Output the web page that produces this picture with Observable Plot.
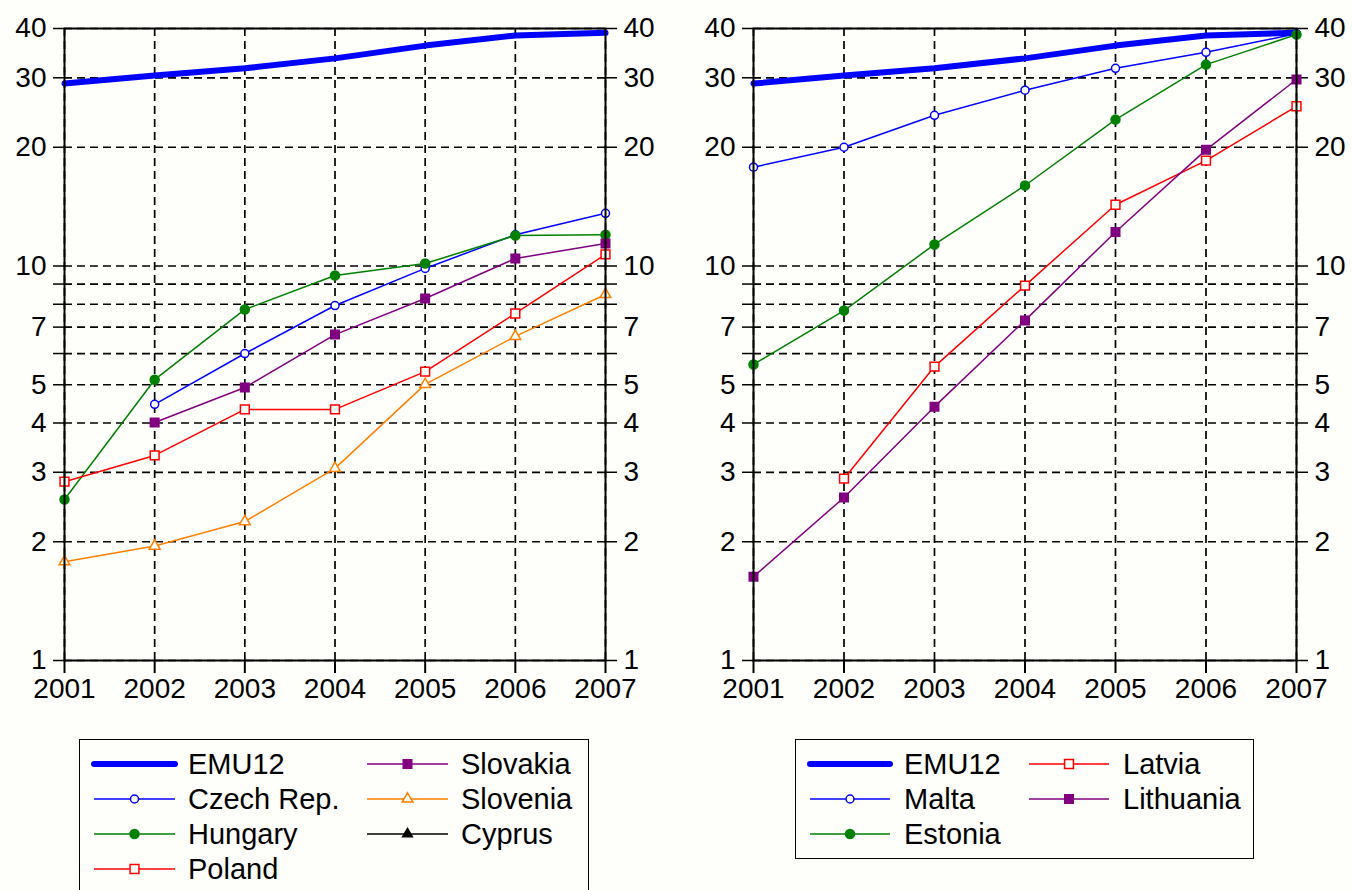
<!DOCTYPE html>
<html><head><meta charset="utf-8">
<script src="https://cdn.jsdelivr.net/npm/d3@7"></script>
<script src="https://cdn.jsdelivr.net/npm/@observablehq/plot@0.6"></script>
<style>
body{margin:0;background:#fefefb;font-family:"Liberation Sans",Arial,sans-serif;}
#wrap{position:relative;width:1352px;height:890px;overflow:hidden;background:#fefefb;}
.panel{position:absolute;top:0;}
.legend{position:absolute;border:1.5px solid #000;background:#fefefb;box-sizing:border-box;}
.legend svg{display:block;overflow:visible;}
</style></head><body><div id="wrap"></div>
<script>
// ---------- data ----------
const years = [2001, 2002, 2003, 2004, 2005, 2006, 2007];
const emu12 = [29.0, 30.4, 31.7, 33.6, 36.2, 38.4, 39.0];
// left panel
const czech    = [null, 4.46, 6.0, 7.94, 9.86, 12.0, 13.6];
const hungary  = [2.56, 5.15, 7.76, 9.46, 10.15, 11.95, 12.0];
const poland   = [2.84, 3.31, 4.33, 4.33, 5.40, 7.58, 10.7];
const slovakia = [null, 4.01, 4.92, 6.70, 8.27, 10.45, 11.4];
const slovenia = [1.78, 1.95, 2.25, 3.07, 5.01, 6.63, 8.47];
const cyprus   = [null, null, null, null, null, null, null];
// right panel
const malta     = [17.8, 20.0, 24.1, 27.9, 31.7, 34.8, 38.8];
const estonia   = [5.63, 7.71, 11.34, 16.0, 23.5, 32.4, 38.6];
const latvia    = [null, 2.89, 5.56, 8.92, 14.3, 18.5, 25.4];
const lithuania = [1.63, 2.59, 4.40, 7.28, 12.2, 19.7, 29.7];
// axes
const gridValues = [1, 2, 3, 4, 5, 6, 7, 8, 9, 10, 20, 30, 40];
const tickLabels = [1, 2, 3, 4, 5, 7, 10, 20, 30, 40];

const BG = "#fefefb";
const FONT = "Liberation Sans, Arial, sans-serif";
const FS = 28;
const LFS = 29;

const S = {
  EMU12:      {values: emu12,    color: "#0000ff", width: 6,   symbol: null},
  "Czech Rep.":{values: czech,   color: "#0000ff", width: 1.5, symbol: "circle", filled: false, r: 4},
  Hungary:    {values: hungary,  color: "#008000", width: 1.5, symbol: "circle", filled: true,  r: 4.5},
  Poland:     {values: poland,   color: "#ff0000", width: 1.5, symbol: "square", filled: false, r: 5},
  Slovakia:   {values: slovakia, color: "#800080", width: 1.5, symbol: "square", filled: true,  r: 4.8},
  Slovenia:   {values: slovenia, color: "#ff8000", width: 1.5, symbol: "triangle", filled: false, r: 4},
  Cyprus:     {values: cyprus,   color: "#000000", width: 1.5, symbol: "triangle", filled: true, r: 3.6},
  Malta:      {values: malta,    color: "#0000ff", width: 1.5, symbol: "circle", filled: false, r: 4},
  Estonia:    {values: estonia,  color: "#008000", width: 1.5, symbol: "circle", filled: true,  r: 4.5},
  Latvia:     {values: latvia,   color: "#ff0000", width: 1.5, symbol: "square", filled: false, r: 5},
  Lithuania:  {values: lithuania,color: "#800080", width: 1.5, symbol: "square", filled: true,  r: 4.8}
};

function rows(name) {
  return years.map((y, i) => ({year: y, value: S[name].values[i]})).filter(d => d.value != null);
}

function panel(names, {left, width, marginLeft, marginRight}) {
  const marks = [
    Plot.ruleY(gridValues, {stroke: "#000", strokeWidth: 1.7, strokeDasharray: "8,5"}),
    Plot.ruleX(years, {stroke: "#000", strokeWidth: 1.7, strokeDasharray: "8,5"}),
    Plot.axisY({anchor: "left", ticks: gridValues, tickSize: 11, tickPadding: 7, strokeWidth: 1.5,
      tickFormat: d => tickLabels.includes(d) ? String(d) : "", label: null}),
    Plot.axisY({anchor: "right", ticks: gridValues, tickSize: 11, tickPadding: 7, strokeWidth: 1.5,
      tickFormat: d => tickLabels.includes(d) ? String(d) : "", label: null}),
    Plot.axisX({ticks: years, tickSize: 13, tickPadding: 5, strokeWidth: 2, tickFormat: d => String(d), label: null})
  ];
  for (const n of names) {
    const s = S[n];
    const data = rows(n);
    marks.push(Plot.line(data, {x: "year", y: "value", stroke: s.color, strokeWidth: s.width}));
    if (s.symbol) {
      marks.push(Plot.dot(data, {x: "year", y: "value", symbol: s.symbol, r: s.r,
        stroke: s.color, strokeWidth: 1.5, fill: s.filled ? s.color : BG}));
    }
  }
  marks.push(Plot.frame({stroke: "#000", strokeWidth: 2}));
  const chart = Plot.plot({
    width, height: 720,
    marginLeft, marginRight, marginTop: 28, marginBottom: 60,
    x: {domain: [2001, 2007]},
    y: {type: "log", domain: [1, 40]},
    style: {fontFamily: FONT, fontSize: FS + "px", background: "transparent", color: "#000", overflow: "visible"},
    marks
  });
  chart.classList.add("panel");
  chart.style.left = left + "px";
  return chart;
}

function legend(cols, {left, top, width, height, lineX0, lineX1, textX, col2Offset, rowY, rowStep}) {
  const div = document.createElement("div");
  div.className = "legend";
  Object.assign(div.style, {left: left + "px", top: top + "px", width: width + "px", height: height + "px"});
  const svg = d3.create("svg").attr("width", width).attr("height", height);
  cols.forEach((col, ci) => {
    col.forEach((name, ri) => {
      const s = S[name];
      const dx = ci * col2Offset;
      const y = rowY + ri * rowStep;
      svg.append("line").attr("x1", lineX0 + dx).attr("x2", lineX1 + dx).attr("y1", y).attr("y2", y)
        .attr("stroke", s.color).attr("stroke-width", s.width).attr("stroke-linecap", s.width > 3 ? "round" : "butt");
      if (s.symbol) {
        const type = {circle: d3.symbolCircle, square: d3.symbolSquare, triangle: d3.symbolTriangle}[s.symbol];
        svg.append("path").attr("d", d3.symbol(type, Math.PI * s.r * s.r)())
          .attr("transform", `translate(${(lineX0 + lineX1) / 2 + dx},${y})`)
          .attr("stroke", s.color).attr("stroke-width", 1.5).attr("fill", s.filled ? s.color : BG);
      }
      svg.append("text").attr("x", textX + dx).attr("y", y).attr("dy", "0.36em")
        .attr("font-family", FONT).attr("font-size", LFS).attr("fill", "#000").text(name);
    });
  });
  div.appendChild(svg.node());
  return div;
}

const wrap = document.getElementById("wrap");
wrap.appendChild(panel(["EMU12", "Czech Rep.", "Hungary", "Poland", "Slovakia", "Slovenia", "Cyprus"],
  {left: 0, width: 680, marginLeft: 64, marginRight: 75}));
wrap.appendChild(panel(["EMU12", "Malta", "Estonia", "Latvia", "Lithuania"],
  {left: 680, width: 672, marginLeft: 73, marginRight: 56}));

wrap.appendChild(legend([["EMU12", "Czech Rep.", "Hungary", "Poland"], ["Slovakia", "Slovenia", "Cyprus"]],
  {left: 79, top: 739, width: 510, height: 160, lineX0: 14, lineX1: 95, textX: 108, col2Offset: 273, rowY: 24, rowStep: 35}));
wrap.appendChild(legend([["EMU12", "Malta", "Estonia"], ["Latvia", "Lithuania"]],
  {left: 795, top: 739, width: 459, height: 120, lineX0: 14, lineX1: 94, textX: 108, col2Offset: 219, rowY: 24, rowStep: 35}));
</script>
</body></html>
